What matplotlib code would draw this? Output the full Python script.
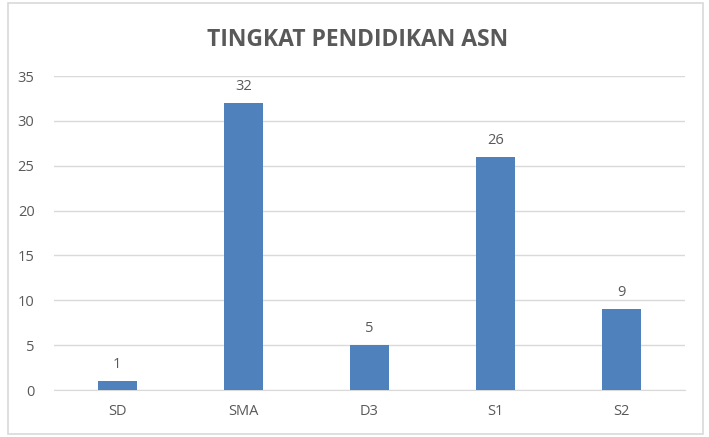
import matplotlib.pyplot as plt
from matplotlib.patches import Rectangle

categories = ["SD", "SMA", "D3", "S1", "S2"]
values = [1, 32, 5, 26, 9]
yticks = [0, 5, 10, 15, 20, 25, 30, 35]

TEXT = "#595959"
BAR = "#4F81BD"
GRID = "#D9D9D9"

plt.rcParams["font.family"] = ["Open Sans", "DejaVu Sans"]

fig = plt.figure(figsize=(7.09, 4.37), dpi=100)

ax = fig.add_axes([54 / 709, 1 - 390 / 437, 631 / 709, 314 / 437])
x = range(len(categories))
bars = ax.bar(x, values, width=0.31, color=BAR, zorder=3)
for xi, v in zip(x, values):
    ax.text(xi, v + 1.0, str(v), ha="center", va="bottom", fontsize=10.5, color=TEXT)

ax.set_xlim(-0.5, len(categories) - 0.5)
ax.set_ylim(0, 35)
ax.set_yticks(yticks)
ax.set_xticks(list(x))
ax.set_xticklabels(categories)
ax.tick_params(axis="both", length=0, labelsize=10.5, colors=TEXT)
ax.tick_params(axis="y", pad=14)
ax.tick_params(axis="x", pad=10)
ax.grid(axis="y", color=GRID, linewidth=1, zorder=0)
for s in ["top", "right", "left"]:
    ax.spines[s].set_visible(False)
ax.spines["bottom"].set_color(GRID)
ax.set_facecolor("none")

fig.patches.append(Rectangle((8 / 709, 3 / 437), 695 / 709, 431 / 437,
                             transform=fig.transFigure, facecolor="none",
                             edgecolor="#D9D9D9", linewidth=1.2))

fig.text(358 / 709, 1 - 40 / 437, "TINGKAT PENDIDIKAN ASN", ha="center", va="center",
         fontsize=16.5, fontweight="bold", color=TEXT)

fig.savefig("out.png", dpi=100)
